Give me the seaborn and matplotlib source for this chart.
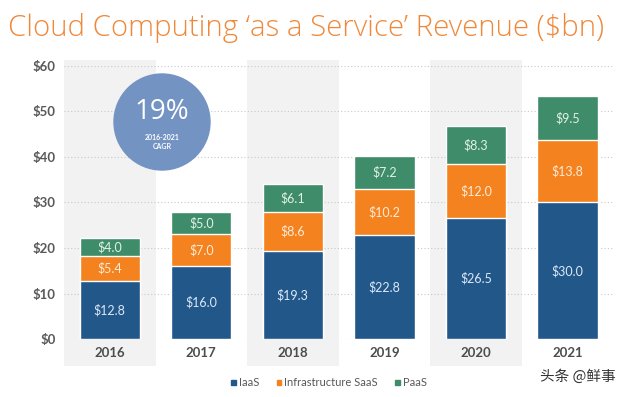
import matplotlib.pyplot as plt
import matplotlib.patches as mpatches
import seaborn as sns
import pandas as pd

years = ["2016", "2017", "2018", "2019", "2020", "2021"]
iaas = [12.8, 16.0, 19.3, 22.8, 26.5, 30.0]
saas = [5.4, 7.0, 8.6, 10.2, 12.0, 13.8]
paas = [4.0, 5.0, 6.1, 7.2, 8.3, 9.5]
series = ["IaaS", "Infrastructure SaaS", "PaaS"]
colors = ["#22578A", "#F4821F", "#3E8C69"]

df = pd.DataFrame({"year": years, "IaaS": iaas, "SaaS": saas, "PaaS": paas})
df["lvl2"] = df["IaaS"] + df["SaaS"]
df["lvl3"] = df["lvl2"] + df["PaaS"]

sns.set_theme(style="white")
plt.rcParams["font.family"] = ["Lato", "DejaVu Sans"]

fig = plt.figure(figsize=(6.4, 3.97), dpi=100)
ax = fig.add_axes([0.1, 0.146, 0.858, 0.688])

# alternating column shading
for i in range(0, len(years), 2):
    ax.axvspan(i - 0.5, i + 0.5, ymin=-0.099, ymax=1.022, color="#F2F2F2",
               zorder=0, clip_on=False, lw=0)

# stacked bars, drawn as layered cumulative totals
for col, c in zip(["lvl3", "lvl2", "IaaS"], colors[::-1]):
    sns.barplot(data=df, x="year", y=col, color=c, width=0.66, ax=ax,
                saturation=1, zorder=3)

label_cols = ["#DCE8F5", "#FCEBD8", "#E2F0E8"]
for i in range(len(years)):
    bottoms = [0, iaas[i], iaas[i] + saas[i]]
    for j, v in enumerate([iaas[i], saas[i], paas[i]]):
        ax.text(i, bottoms[j] + v / 2, f"${v:.1f}", ha="center", va="center",
                color=label_cols[j], fontsize=9, zorder=4)

ax.set_xlim(-0.5, 5.5)
ax.set_ylim(0, 60)
ax.set_yticks(range(0, 61, 10))
ax.set_yticklabels([f"${v}" for v in range(0, 61, 10)])
ax.yaxis.grid(True, ls=(0, (1, 2)), color="#C8C8C8", lw=0.8, zorder=1)
ax.set_axisbelow(True)
for s in ax.spines.values():
    s.set_visible(False)
ax.set_xlabel("")
ax.set_ylabel("")
ax.tick_params(axis="y", labelsize=9.5, labelcolor="#595959", pad=6, length=0)
ax.tick_params(axis="x", labelsize=9.5, labelcolor="#4D4D4D", pad=6, length=0)
for t in ax.get_xticklabels() + ax.get_yticklabels():
    t.set_fontweight("bold")

# CAGR bubble
pt = fig.dpi_scale_trans
circ = mpatches.Circle((1.62, 2.75), 0.48, transform=pt,
                       color="#7393C3", zorder=5, clip_on=False)
ax.add_patch(circ)
ax.text(1.62, 2.85, "19%", transform=pt, ha="center", va="center",
        color="white", fontsize=20, zorder=6, clip_on=False,
        family=["Open Sans", "DejaVu Sans"])
ax.text(1.62, 2.60, "2016-2021", transform=pt, ha="center", va="center",
        color="white", fontsize=5, fontweight="bold", zorder=6, clip_on=False)
ax.text(1.62, 2.51, "CAGR", transform=pt, ha="center", va="center",
        color="white", fontsize=5, fontweight="bold", zorder=6, clip_on=False)

fig.text(0.012, 1 - 28 / 397, "Cloud Computing \u2018as a Service\u2019 Revenue ($bn)",
         ha="left", va="center", color="#F0883A", fontsize=21.2,
         fontweight="light", family=["Open Sans", "DejaVu Sans"])

handles = [mpatches.Patch(color=c, label=s) for c, s in zip(colors, series)]
fig.legend(handles=handles, loc="center", bbox_to_anchor=(0.514, 1 - 383 / 397),
           ncol=3, frameon=False, fontsize=8, handlelength=0.4, handleheight=0.4,
           handletextpad=0.25, columnspacing=1.6, labelcolor="#595959")

fig.text(578 / 640, 1 - 377 / 397, "头条 @鲜事", ha="center", va="center",
         color="#333333", fontsize=10.5,
         family=["Noto Sans CJK SC", "DejaVu Sans"])

fig.savefig("out.png", dpi=100, facecolor="white")
